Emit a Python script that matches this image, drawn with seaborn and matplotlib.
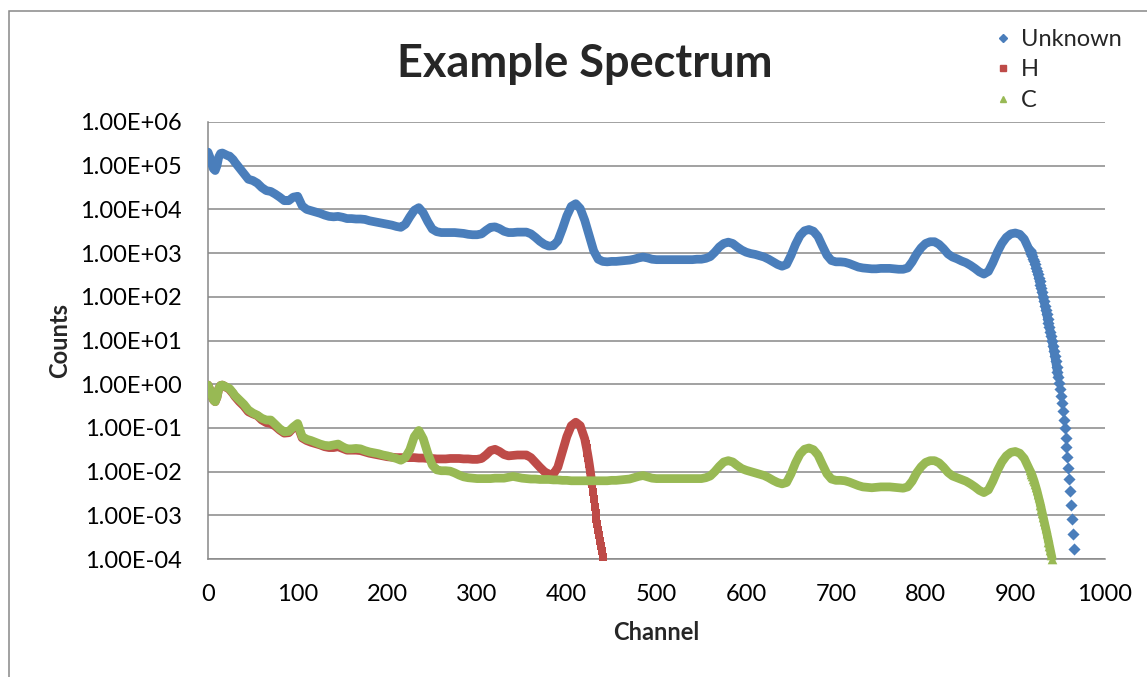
import matplotlib
matplotlib.use("Agg")
import matplotlib.pyplot as plt
import numpy as np
import pandas as pd
import seaborn as sns
from matplotlib.lines import Line2D
from matplotlib.patches import Rectangle
from matplotlib.ticker import FixedLocator, FuncFormatter, NullLocator

sns.set_style("white")
plt.rcParams["font.family"] = ["Lato", "DejaVu Sans"]

# ---------------------------------------------------------------- data
TITLE = "Example Spectrum"
X_LABEL = "Channel"
Y_LABEL = "Counts"
SERIES = ["Unknown", "H", "C"]
X_TICKS = list(range(0, 1001, 100))
Y_TICKS = [1e-4, 1e-3, 1e-2, 1e-1, 1e0, 1e1, 1e2, 1e3, 1e4, 1e5, 1e6]

# channel grids (dense at start, every 5 in body, every 1 in tails)
EARLY_CH = list(range(0, 30, 2))            # 0 .. 28
MAIN_CH = list(range(30, 920, 5))           # 30 .. 915
H_MAIN_CH = list(range(30, 425, 5))         # 30 .. 420
UNKNOWN_TAIL_CH = list(range(916, 966))     # 916 .. 965
H_TAIL_CH = list(range(421, 441))           # 421 .. 440
C_TAIL_CH = list(range(916, 942))           # 916 .. 941

# log10(counts) values
UNKNOWN_EARLY = [5.31, 5.20, 5.05, 4.93, 4.89, 5.00, 5.20, 5.28, 5.29, 5.27, 5.25, 5.23, 5.22, 5.18, 5.14]
UNKNOWN_MAIN = [
    5.08, 4.95, 4.82, 4.69, 4.66, 4.60, 4.50, 4.43, 4.41, 4.35,   # 30-75
    4.28, 4.20, 4.20, 4.28, 4.30, 4.08, 4.00, 3.97, 3.94, 3.91,   # 80-125
    3.87, 3.84, 3.83, 3.84, 3.82, 3.79, 3.79, 3.78, 3.78, 3.77,   # 130-175
    3.74, 3.72, 3.70, 3.68, 3.66, 3.64, 3.61, 3.59, 3.66, 3.83,   # 180-225
    3.98, 4.04, 3.92, 3.72, 3.55, 3.49, 3.47, 3.47, 3.47, 3.47,   # 230-275
    3.46, 3.45, 3.43, 3.42, 3.42, 3.44, 3.52, 3.59, 3.60, 3.56,   # 280-325
    3.50, 3.47, 3.47, 3.48, 3.48, 3.48, 3.44, 3.36, 3.27, 3.20,   # 330-375
    3.16, 3.17, 3.28, 3.55, 3.85, 4.07, 4.13, 4.02, 3.75, 3.40,   # 380-425
    3.05, 2.86, 2.81, 2.80, 2.81, 2.81, 2.82, 2.83, 2.84, 2.86,   # 430-475
    2.89, 2.91, 2.89, 2.86, 2.85, 2.85, 2.85, 2.85, 2.85, 2.85,   # 480-525
    2.85, 2.85, 2.85, 2.86, 2.86, 2.88, 2.92, 3.02, 3.14, 3.22,   # 530-575
    3.25, 3.22, 3.14, 3.07, 3.02, 2.99, 2.97, 2.94, 2.91, 2.86,   # 580-625
    2.80, 2.74, 2.70, 2.74, 2.95, 3.20, 3.40, 3.51, 3.54, 3.50,   # 630-675
    3.38, 3.16, 2.95, 2.83, 2.80, 2.80, 2.79, 2.76, 2.72, 2.68,   # 680-725
    2.66, 2.65, 2.64, 2.64, 2.65, 2.65, 2.65, 2.64, 2.63, 2.63,   # 730-775
    2.66, 2.80, 2.98, 3.12, 3.22, 3.26, 3.26, 3.20, 3.10, 2.98,   # 780-825
    2.91, 2.87, 2.82, 2.78, 2.72, 2.65, 2.57, 2.52, 2.58, 2.78,   # 830-875
    3.02, 3.22, 3.36, 3.44, 3.46, 3.43, 3.32, 3.10,               # 880-915
]
UNKNOWN_TAIL = [
    3.07, 3.03, 2.98, 2.93, 2.87, 2.81, 2.74, 2.67, 2.60, 2.52,
    2.44, 2.36, 2.28, 2.19, 2.10, 2.00, 1.90, 1.80, 1.70, 1.60,
    1.50, 1.40, 1.30, 1.20, 1.10, 1.00, 0.88, 0.76, 0.64, 0.52,
    0.40, 0.28, 0.16, 0.03, -0.12, -0.28, -0.44, -0.62, -0.81, -1.01,
    -1.22, -1.44, -1.67, -1.91, -2.17, -2.45, -2.76, -3.08, -3.42, -3.77,
]

H_EARLY = [-0.02, -0.12, -0.25, -0.36, -0.40, -0.30, -0.10, -0.03, -0.02, -0.04, -0.07, -0.09, -0.12, -0.17, -0.22]
H_MAIN = [
    -0.28, -0.40, -0.50, -0.63, -0.68, -0.72, -0.82, -0.88, -0.90, -0.96,   # 30-75
    -1.05, -1.12, -1.11, -1.00, -0.95, -1.23, -1.29, -1.33, -1.36, -1.39,   # 80-125
    -1.43, -1.45, -1.45, -1.43, -1.47, -1.51, -1.51, -1.51, -1.52, -1.55,   # 130-175
    -1.58, -1.60, -1.62, -1.64, -1.66, -1.67, -1.68, -1.68, -1.68, -1.68,   # 180-225
    -1.68, -1.69, -1.69, -1.70, -1.70, -1.71, -1.71, -1.71, -1.70, -1.70,   # 230-275
    -1.70, -1.71, -1.71, -1.72, -1.72, -1.70, -1.62, -1.52, -1.49, -1.54,   # 280-325
    -1.61, -1.64, -1.63, -1.62, -1.62, -1.62, -1.68, -1.79, -1.90, -2.00,   # 330-375
    -2.06, -2.06, -1.90, -1.55, -1.20, -0.95, -0.87, -0.95, -1.25,          # 380-420
]
H_TAIL = [
    -1.36, -1.46, -1.57, -1.69, -1.82, -1.96, -2.12, -2.29, -2.46, -2.63,
    -2.80, -2.95, -3.08, -3.21, -3.34, -3.46, -3.58, -3.70, -3.82, -3.95,
]

C_EARLY = [-0.02, -0.12, -0.25, -0.36, -0.40, -0.30, -0.10, -0.03, -0.02, -0.04, -0.06, -0.08, -0.10, -0.15, -0.20]
C_MAIN = [
    -0.26, -0.36, -0.46, -0.59, -0.66, -0.71, -0.78, -0.82, -0.82, -0.92,   # 30-75
    -1.02, -1.09, -1.08, -0.98, -0.90, -1.20, -1.26, -1.29, -1.33, -1.37,   # 80-125
    -1.40, -1.41, -1.39, -1.37, -1.43, -1.48, -1.48, -1.47, -1.48, -1.52,   # 130-175
    -1.55, -1.57, -1.59, -1.62, -1.64, -1.67, -1.70, -1.74, -1.68, -1.50,   # 180-225
    -1.20, -1.06, -1.25, -1.58, -1.85, -1.96, -1.98, -1.98, -1.99, -2.03,   # 230-275
    -2.08, -2.12, -2.14, -2.15, -2.16, -2.16, -2.16, -2.16, -2.15, -2.15,   # 280-325
    -2.15, -2.13, -2.11, -2.13, -2.15, -2.16, -2.17, -2.17, -2.18, -2.18,   # 330-375
    -2.18, -2.19, -2.19, -2.20, -2.20, -2.21, -2.21, -2.21, -2.21, -2.21,   # 380-425
    -2.21, -2.21, -2.21, -2.21, -2.20, -2.20, -2.19, -2.18, -2.17, -2.14,   # 430-475
    -2.11, -2.09, -2.12, -2.15, -2.16, -2.16, -2.16, -2.16, -2.16, -2.16,   # 480-525
    -2.16, -2.16, -2.16, -2.16, -2.16, -2.14, -2.10, -2.00, -1.88, -1.78,   # 530-575
    -1.75, -1.78, -1.86, -1.93, -1.97, -2.00, -2.03, -2.06, -2.09, -2.14,   # 580-625
    -2.20, -2.25, -2.28, -2.25, -2.05, -1.80, -1.60, -1.49, -1.46, -1.50,   # 630-675
    -1.62, -1.84, -2.05, -2.17, -2.20, -2.20, -2.21, -2.24, -2.28, -2.32,   # 680-725
    -2.35, -2.36, -2.37, -2.36, -2.35, -2.35, -2.35, -2.36, -2.37, -2.38,   # 730-775
    -2.35, -2.22, -2.03, -1.89, -1.79, -1.75, -1.75, -1.80, -1.90, -2.02,   # 780-825
    -2.10, -2.14, -2.18, -2.22, -2.28, -2.35, -2.43, -2.48, -2.42, -2.22,   # 830-875
    -1.98, -1.78, -1.64, -1.56, -1.54, -1.58, -1.70, -1.92,                 # 880-915
]
C_TAIL = [
    -1.96, -2.00, -2.05, -2.10, -2.16, -2.22, -2.29, -2.36, -2.43, -2.51,
    -2.59, -2.67, -2.76, -2.85, -2.94, -3.03, -3.12, -3.21, -3.30, -3.40,
    -3.50, -3.60, -3.70, -3.80, -3.90, -3.99,
]

# ---------------------------------------------------------------- styles
COLORS = {"Unknown": "#4A7EBB", "H": "#BE4B48", "C": "#98B954"}
MARKERS = {"Unknown": "D", "H": "s", "C": "^"}
MARKER_SIZE = {"Unknown": 38, "H": 40, "C": 48}
LINE_UNTIL = {"Unknown": 948, "H": 428, "C": 941}
TAIL_FROM = {"Unknown": 916, "H": 421, "C": 916}
GRID = "#888888"


def frame(name, channels, logs):
    assert len(channels) == len(logs), name
    return pd.DataFrame({"channel": channels,
                         "counts": np.power(10.0, np.asarray(logs, dtype=float)),
                         "series": name})


df = pd.concat([
    frame("Unknown", EARLY_CH + MAIN_CH + UNKNOWN_TAIL_CH, UNKNOWN_EARLY + UNKNOWN_MAIN + UNKNOWN_TAIL),
    frame("H", EARLY_CH + H_MAIN_CH + H_TAIL_CH, H_EARLY + H_MAIN + H_TAIL),
    frame("C", EARLY_CH + MAIN_CH + C_TAIL_CH, C_EARLY + C_MAIN + C_TAIL),
], ignore_index=True)

W, H = 1147, 677
fig = plt.figure(figsize=(W / 100, H / 100), dpi=100)
fig.patch.set_facecolor("white")
ax = fig.add_axes([208 / W, 1 - 559 / H, 897 / W, 437 / H])
ax.set_yscale("log")
ax.set_xlim(0, 1000)
ax.set_ylim(1e-4, 1e6)
ax.set_axisbelow(True)

for i, name in enumerate(SERIES):
    sub = df[df["series"] == name]
    body = sub[sub["channel"] <= LINE_UNTIL[name]]
    tail = sub[sub["channel"] >= TAIL_FROM[name]]
    sns.lineplot(data=body, x="channel", y="counts", ax=ax, color=COLORS[name],
                 linewidth=6.3, estimator=None, sort=True, legend=False,
                 solid_capstyle="round", solid_joinstyle="round", zorder=3 + i)
    sns.scatterplot(data=tail, x="channel", y="counts", ax=ax, color=COLORS[name],
                    marker=MARKERS[name], s=MARKER_SIZE[name], linewidth=0,
                    legend=False, zorder=3 + i, clip_on=False)

# axes styling
ax.xaxis.set_major_locator(FixedLocator(X_TICKS))
ax.yaxis.set_major_locator(FixedLocator(Y_TICKS))
ax.yaxis.set_minor_locator(NullLocator())
ax.yaxis.set_major_formatter(FuncFormatter(lambda v, p: f"{v:.2E}"))
ax.yaxis.grid(True, color=GRID, linewidth=1.1)
ax.xaxis.grid(False)
for side in ("top", "right"):
    ax.spines[side].set_visible(False)
for side in ("left", "bottom"):
    ax.spines[side].set_color(GRID)
    ax.spines[side].set_linewidth(1.1)
ax.tick_params(axis="both", which="major", direction="out", length=5.5, width=1.1,
               color=GRID, labelsize=17, labelcolor="black")
ax.tick_params(axis="y", pad=13.5)
ax.tick_params(axis="x", pad=12.5)

ax.set_xlabel(X_LABEL, fontsize=17, fontweight="bold")
ax.set_ylabel(Y_LABEL, fontsize=17, fontweight="bold")
ax.xaxis.set_label_coords(0.5, (559 - 633) / 437)
ax.xaxis.label.set_va("center")
ax.yaxis.set_label_coords((60 - 208) / 897, 0.5)
ax.yaxis.label.set_va("center")

fig.text(585 / W, 1 - 77 / H, TITLE, ha="center", va="baseline",
         fontsize=32.5, fontweight="bold")

handles = [Line2D([], [], linestyle="none", marker=MARKERS[n], color=COLORS[n],
                  markersize=5 if n != "Unknown" else 4.5) for n in SERIES]
fig.legend(handles, SERIES, loc="upper left", bbox_to_anchor=(996 / W, 1 - 29 / H),
           frameon=False, fontsize=17, handlelength=0.6, handletextpad=0.45,
           labelspacing=0.4, borderpad=0, borderaxespad=0)

# chart-area border
fig.patches.append(Rectangle((9 / W, -0.05), 1.2, 1.05 - 10.5 / H, transform=fig.transFigure,
                             fill=False, edgecolor=GRID, linewidth=1.1, figure=fig))

fig.savefig("out.png", dpi=100, facecolor="white")
